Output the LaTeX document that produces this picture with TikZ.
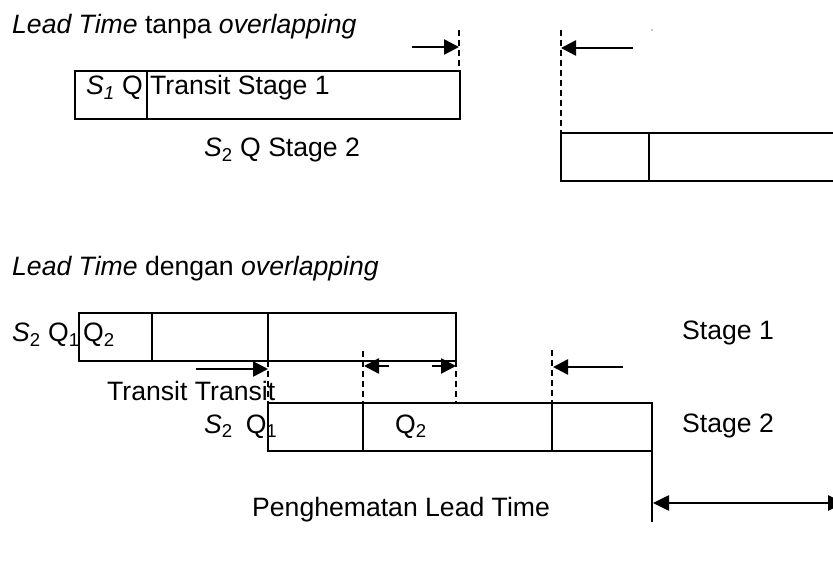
\documentclass[tikz,border=0pt]{standalone}
\usepackage{fontspec}
\setmainfont{Liberation Sans}
\usetikzlibrary{arrows.meta}
\begin{document}
\begin{tikzpicture}[x=1pt,y=-1pt,
  box/.style={draw,line width=2pt},
  dsh/.style={draw,line width=2pt,dash pattern=on 6pt off 4pt},
  arr/.style={line width=2.6pt,-{Triangle[length=15pt,width=15pt]}},
  dbl/.style={line width=2.6pt,{Triangle[length=16pt,width=15pt]}-{Triangle[length=16pt,width=15pt]}},
  lbl/.style={anchor=base west,inner sep=0pt,font=\fontsize{26.6}{30}\selectfont}]
\useasboundingbox (0,0) rectangle (833,569);
\clip (0,0) rectangle (833,569);

% ---------- Lead Time tanpa overlapping ----------
\node[lbl] (t1) at (12,33.5) {\textit{Lead Time} tanpa \textit{overlapping}};

\draw[box] (75,71) rectangle (460,119);
\draw[box] (147,71) -- (147,119);
\node[lbl] (s1q) at (86,95) {\textit{S\textsubscript{1}} Q};
\node[lbl] (ts1) at (150,95) {Transit Stage 1};
\node[lbl] (s2q) at (204,157) {\textit{S}\textsubscript{2} Q Stage 2};

\coordinate (d1t) at (459,30);
\coordinate (d1b) at (459,71);
\draw[dsh] (d1t) -- (d1b);
\coordinate (a1s) at (412,47);
\coordinate (a1e) at (459,47);
\draw[arr] (a1s) -- (a1e);

\coordinate (d2t) at (561,30);
\coordinate (d2b) at (561,133);
\draw[dsh] (d2t) -- (d2b);
\coordinate (a2s) at (633,48);
\coordinate (a2e) at (561,48);
\draw[arr] (a2s) -- (a2e);
\fill (652,30) circle (0.7pt);

\draw[box] (561,133) rectangle (860,181);
\draw[box] (649,133) -- (649,181);

% ---------- Lead Time dengan overlapping ----------
\node[lbl] (t2) at (12,276) {\textit{Lead Time} dengan \textit{overlapping}};

\draw[box] (79,313) rectangle (456,361);
\draw[box] (152,313) -- (152,361);
\draw[box] (268,313) -- (268,361);
\node[lbl] (sq12) at (12,342) {\textit{S}\textsubscript{2} Q\textsubscript{1}};
\node[lbl] (q2a) at (83,342) {Q\textsubscript{2}};
\node[lbl] (st1) at (682,340) {Stage 1};

\draw[box] (268,403) rectangle (652,451);
\draw[box] (363,403) -- (363,451);
\draw[box] (552,403) -- (552,451);
\node[lbl] (tt) at (107,400) {Transit Transit};
\node[lbl] (sq1) at (204,433) {\textit{S}\textsubscript{2}\hspace{13pt}Q\textsubscript{1}};
\node[lbl] (q2b) at (395,433) {Q\textsubscript{2}};
\node[lbl] (st2) at (682,432) {Stage 2};

% dashed guides
\coordinate (g1t) at (268,361); \coordinate (g1b) at (268,403);
\coordinate (g2t) at (363,351); \coordinate (g2b) at (363,403);
\coordinate (g3t) at (456,361); \coordinate (g3b) at (456,403);
\coordinate (g4t) at (552,350); \coordinate (g4b) at (552,403);
\draw[dsh] (g1t) -- (g1b);
\draw[dsh] (g2t) -- (g2b);
\draw[dsh] (g3t) -- (g3b);
\draw[dsh] (g4t) -- (g4b);

% arrows
\coordinate (b1s) at (196,369); \coordinate (b1e) at (268,369);
\draw[arr] (b1s) -- (b1e);
\coordinate (b2s) at (389,366); \coordinate (b2e) at (364,366);
\draw[arr] (b2s) -- (b2e);
\coordinate (b3s) at (432,366); \coordinate (b3e) at (456,366);
\draw[arr] (b3s) -- (b3e);
\coordinate (b4s) at (623,367); \coordinate (b4e) at (553,367);
\draw[arr] (b4s) -- (b4e);

% savings
\coordinate (v1t) at (652,451); \coordinate (v1b) at (652,522);
\draw[line width=2pt] (v1t) -- (v1b);
\coordinate (h1s) at (653,503); \coordinate (h1e) at (844,503);
\draw[dbl] (h1s) -- (h1e);
\node[lbl] (pl) at (252,516) {Penghematan Lead Time};
\end{tikzpicture}
\end{document}
